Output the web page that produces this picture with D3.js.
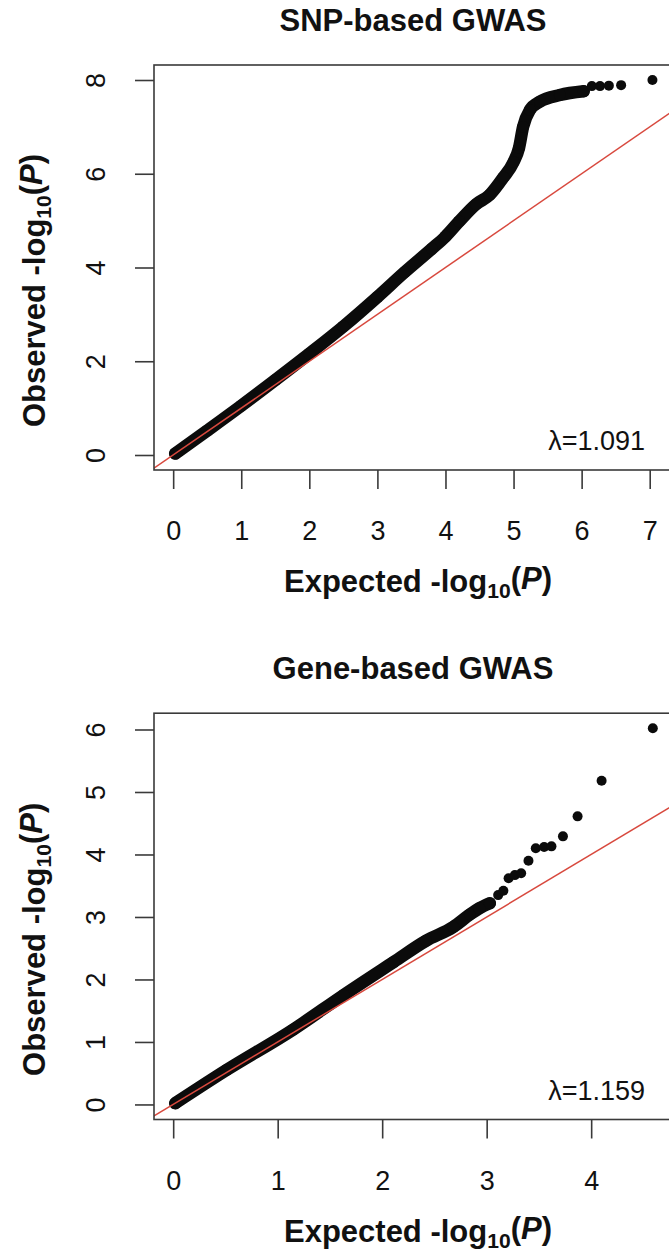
<!DOCTYPE html>
<html>
<head>
<meta charset="utf-8">
<script src="https://cdn.jsdelivr.net/npm/d3@7"></script>
<style>
  html, body { margin: 0; padding: 0; background: #fff; }
  svg { display: block; }
  text { font-family: "Liberation Sans", Arial, Helvetica, sans-serif; fill: #111; }
</style>
</head>
<body>
<svg id="chart"></svg>
<script>
// SNP-based QQ: dense band (read along its centre) + the sparse top tail
const snpBandExp = [0.03, 0.50, 1.00, 1.50, 2.00, 2.50, 3.00, 3.40, 3.80, 4.00, 4.20, 4.45, 4.65, 4.85, 5.00, 5.08, 5.14, 5.24, 5.39, 5.68, 6.03];
const snpBandObs = [0.03, 0.52, 1.05, 1.60, 2.16, 2.74, 3.37, 3.90, 4.40, 4.66, 4.98, 5.35, 5.55, 5.92, 6.25, 6.55, 7.00, 7.36, 7.54, 7.68, 7.76];
const snpTailExp = [6.15, 6.27, 6.40, 6.58, 7.04];
const snpTailObs = [7.87, 7.87, 7.88, 7.89, 8.00];

// Gene-based QQ
const geneBandExp = [0.02, 0.51, 1.15, 1.63, 2.11, 2.42, 2.68, 2.84, 2.93, 3.03];
const geneBandObs = [0.02, 0.55, 1.20, 1.75, 2.28, 2.62, 2.84, 3.04, 3.14, 3.22];
const geneTailExp = [3.11, 3.16, 3.21, 3.27, 3.33, 3.40, 3.47, 3.55, 3.62, 3.73, 3.87, 4.10, 4.59];
const geneTailObs = [3.35, 3.42, 3.62, 3.67, 3.70, 3.90, 4.10, 4.12, 4.13, 4.29, 4.61, 5.18, 6.02];

const snpXTicks = [0, 1, 2, 3, 4, 5, 6, 7];
const snpYTicks = [0, 2, 4, 6, 8];
const geneXTicks = [0, 1, 2, 3, 4];
const geneYTicks = [0, 1, 2, 3, 4, 5, 6];

const titles = ["SNP-based GWAS", "Gene-based GWAS"];
const lambdas = ["λ=1.091", "λ=1.159"];

const width = 669, height = 1254;
const svg = d3.select('#chart').attr('width', width).attr('height', height);

const dotR = 5;
const ink = '#0b0b0b';
const axisCol = '#3a3a3a';
const tickFont = 27;
const labFont = 31;

function addLogLabel(sel, prefix) {
  sel.append('tspan').text(prefix + ' -log');
  sel.append('tspan').attr('font-size', '68%').attr('dy', '0.3em').text('10');
  sel.append('tspan').attr('dy', '-0.3em').text('(');
  sel.append('tspan').attr('font-style', 'italic').text('P');
  sel.append('tspan').text(')');
}

function drawPanel(idx, rect, bandX, bandY, tailX, tailY, xTicks, yTicks) {
  const g = svg.append('g');
  const xmax = d3.max(bandX.concat(tailX));
  const ymax = d3.max(bandY.concat(tailY));

  // R style 4% padding
  const x = d3.scaleLinear().domain([-0.04 * xmax, 1.04 * xmax]).range([rect.left, rect.right]);
  const y = d3.scaleLinear().domain([-0.04 * ymax, 1.04 * ymax]).range([rect.bottom, rect.top]);

  const clipId = 'clip' + idx;
  g.append('clipPath').attr('id', clipId)
    .append('rect')
    .attr('x', rect.left).attr('y', rect.top)
    .attr('width', rect.right - rect.left).attr('height', rect.bottom - rect.top);

  const plot = g.append('g').attr('clip-path', `url(#${clipId})`);

  // dense part of the points
  const band = bandX.map((d, i) => [d, bandY[i]]);
  plot.append('path')
    .datum(band)
    .attr('d', d3.line().x(d => x(d[0])).y(d => y(d[1])).curve(d3.curveMonotoneX))
    .attr('fill', 'none')
    .attr('stroke', ink)
    .attr('stroke-width', 12.5)
    .attr('stroke-linecap', 'round')
    .attr('stroke-linejoin', 'round');

  plot.selectAll('.bandpt')
    .data(band)
    .enter()
    .append('circle')
    .attr('cx', d => x(d[0]))
    .attr('cy', d => y(d[1]))
    .attr('r', 6)
    .attr('fill', ink);

  // sparse tail
  const tail = tailX.map((d, i) => [d, tailY[i]]);
  plot.selectAll('.tailpt')
    .data(tail)
    .enter()
    .append('circle')
    .attr('cx', d => x(d[0]))
    .attr('cy', d => y(d[1]))
    .attr('r', dotR)
    .attr('fill', ink);

  // y = x reference line
  const lo = Math.min(x.domain()[0], y.domain()[0]);
  const hi = Math.max(x.domain()[1], y.domain()[1]);
  plot.append('line')
    .attr('x1', x(lo)).attr('y1', y(lo))
    .attr('x2', x(hi)).attr('y2', y(hi))
    .attr('stroke', '#d8493e')
    .attr('stroke-width', 1.5);

  // box
  g.append('rect')
    .attr('x', rect.left).attr('y', rect.top)
    .attr('width', rect.right - rect.left).attr('height', rect.bottom - rect.top)
    .attr('fill', 'none')
    .attr('stroke', axisCol)
    .attr('stroke-width', 1.6);

  // x axis
  const xAxis = g.append('g')
    .attr('transform', `translate(0,${rect.bottom})`)
    .call(d3.axisBottom(x).tickValues(xTicks).tickSize(19).tickFormat(d3.format('d')));
  xAxis.select('.domain').remove();
  xAxis.selectAll('.tick line').attr('stroke', axisCol).attr('stroke-width', 1.6);
  xAxis.selectAll('.tick text')
    .attr('font-size', tickFont)
    .attr('font-family', '"Liberation Sans", Arial, sans-serif')
    .attr('fill', '#222')
    .attr('dy', null)
    .attr('y', 70);

  // y axis, labels parallel to the axis like R's las=0
  const yAxis = g.append('g')
    .attr('transform', `translate(${rect.left},0)`)
    .call(d3.axisLeft(y).tickValues(yTicks).tickSize(19).tickFormat(d3.format('d')));
  yAxis.select('.domain').remove();
  yAxis.selectAll('.tick line').attr('stroke', axisCol).attr('stroke-width', 1.6);
  yAxis.selectAll('.tick text')
    .attr('font-size', tickFont)
    .attr('font-family', '"Liberation Sans", Arial, sans-serif')
    .attr('fill', '#222')
    .attr('x', null).attr('dy', null)
    .attr('text-anchor', 'middle')
    .attr('dominant-baseline', 'central')
    .attr('transform', `translate(${96 - rect.left},0) rotate(-90)`);

  // title
  g.append('text')
    .attr('x', 413)
    .attr('y', rect.top - 34)
    .attr('text-anchor', 'middle')
    .attr('font-size', labFont)
    .attr('font-weight', 'bold')
    .text(titles[idx]);

  // x axis title
  const xt = g.append('text')
    .attr('x', 418)
    .attr('y', rect.bottom + 122)
    .attr('text-anchor', 'middle')
    .attr('font-size', labFont)
    .attr('font-weight', 'bold');
  addLogLabel(xt, 'Expected');

  // y axis title
  const yt = g.append('text')
    .attr('transform', `translate(45,${(rect.top + rect.bottom) / 2 + 23}) rotate(-90)`)
    .attr('text-anchor', 'middle')
    .attr('font-size', labFont)
    .attr('font-weight', 'bold');
  addLogLabel(yt, 'Observed');

  // genomic inflation factor
  g.append('text')
    .attr('x', 645)
    .attr('y', rect.bottom - 20)
    .attr('text-anchor', 'end')
    .attr('font-size', tickFont)
    .attr('fill', '#222')
    .text(lambdas[idx]);
}

drawPanel(0, { left: 154, top: 65, right: 671.6, bottom: 470 },
  snpBandExp, snpBandObs, snpTailExp, snpTailObs, snpXTicks, snpYTicks);
drawPanel(1, { left: 154, top: 713.2, right: 672, bottom: 1119.5 },
  geneBandExp, geneBandObs, geneTailExp, geneTailObs, geneXTicks, geneYTicks);
</script>
</body>
</html>
